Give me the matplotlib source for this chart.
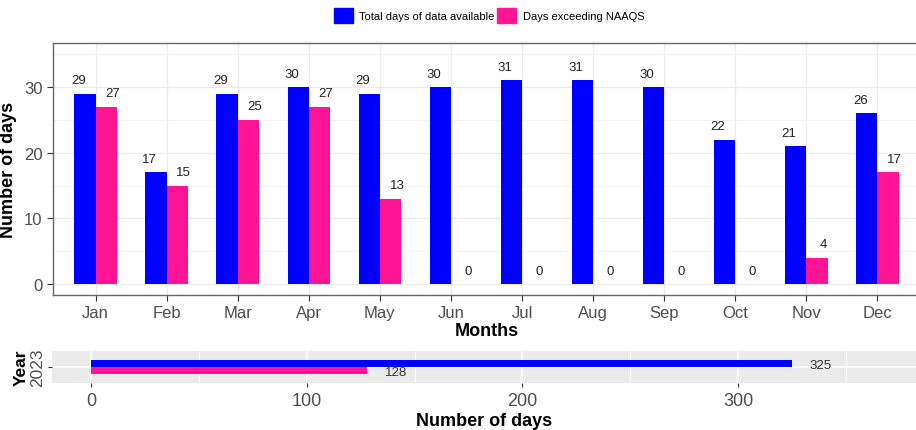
import numpy as np
import matplotlib
matplotlib.use('agg')
import matplotlib.pyplot as plt
from matplotlib.patches import Patch

plt.rcParams['font.family'] = ['Liberation Sans', 'DejaVu Sans']

months = ['Jan', 'Feb', 'Mar', 'Apr', 'May', 'Jun', 'Jul', 'Aug', 'Sep', 'Oct', 'Nov', 'Dec']
total_days = [29, 17, 29, 30, 29, 30, 31, 31, 30, 22, 21, 26]
exceed_days = [27, 15, 25, 27, 13, 0, 0, 0, 0, 0, 4, 17]
year_label = '2023'
year_total = 325
year_exceed = 128

blue = '#0000FF'
pink = '#FF1493'
tick_grey = '#4D4D4D'

fig = plt.figure(figsize=(9.16, 4.31), dpi=100)

# monthly panel
ax = fig.add_axes([53 / 916, 135 / 431, 867 / 916, 252 / 431])
x = np.arange(1, len(months) + 1)
w = 0.3
ax.bar(x - w / 2, total_days, w, color=blue, zorder=3)
ax.bar(x + w / 2, exceed_days, w, color=pink, zorder=3)
for xi, t, e in zip(x, total_days, exceed_days):
    ax.annotate(str(t), (xi - 0.24, t), xytext=(0, 9.7), textcoords='offset points',
                ha='center', va='center', fontsize=9.5, color='#222222')
    ax.annotate(str(e), (xi + 0.24, e), xytext=(0, 9.7), textcoords='offset points',
                ha='center', va='center', fontsize=9.5, color='#222222')
ax.set_xlim(0.4, 12.6)
ax.set_ylim(-1.67, 36.7)
ax.set_xticks(x)
ax.set_xticklabels(months)
ax.set_yticks([0, 10, 20, 30])
ax.set_yticks([5, 15, 25, 35], minor=True)
ax.grid(True, which='major', color='#EBEBEB', lw=0.9, zorder=0)
ax.grid(True, which='minor', axis='y', color='#F3F3F3', lw=0.6, zorder=0)
ax.tick_params(axis='both', which='major', labelsize=12, labelcolor=tick_grey,
               color='#333333', length=4, width=0.8)
ax.tick_params(axis='y', which='minor', length=0)
for s in ax.spines.values():
    s.set_color('#666666')
    s.set_linewidth(1.0)
ax.spines['right'].set_visible(False)
ax.set_xlabel('Months', fontsize=13, fontweight='bold', labelpad=1)
ax.set_ylabel('Number of days', fontsize=13, fontweight='bold', labelpad=5)

# yearly panel
ax2 = fig.add_axes([52 / 916, 47 / 431, 864 / 916, 32 / 431])
ax2.set_facecolor('#EBEBEB')
bh = 0.27
ax2.barh([bh / 2], [year_total], bh, color=blue, zorder=3)
ax2.barh([-bh / 2], [year_exceed], bh, color=pink, zorder=3)
ax2.text(year_total + 13, 0.07, str(year_total), ha='center', va='center', fontsize=9.5, color='#333333')
ax2.text(year_exceed + 13.6, -0.19, str(year_exceed), ha='center', va='center', fontsize=9.5, color='#333333')
ax2.set_xlim(-18.1, 382.5)
ax2.set_ylim(-0.6, 0.6)
ax2.set_xticks([0, 100, 200, 300])
ax2.set_xticks([50, 150, 250, 350], minor=True)
ax2.set_yticks([0])
ax2.set_yticklabels([year_label], rotation=90, va='center')
ax2.grid(True, which='major', color='white', lw=1.1, zorder=0)
ax2.grid(True, which='minor', axis='x', color='white', lw=0.6, zorder=0)
ax2.tick_params(axis='x', which='major', labelsize=13, labelcolor=tick_grey, color='#333333', length=3)
ax2.tick_params(axis='y', which='major', labelsize=12.5, labelcolor=tick_grey, color='#333333', length=3, pad=2)
ax2.tick_params(which='minor', length=0)
for s in ax2.spines.values():
    s.set_visible(False)
ax2.set_xlabel('Number of days', fontsize=13, fontweight='bold', labelpad=2)
ax2.set_ylabel('Year', fontsize=12.5, fontweight='bold', labelpad=1)

handles = [Patch(color=blue), Patch(color=pink)]
fig.legend(handles, ['Total days of data available', 'Days exceeding NAAQS'],
           loc='center', bbox_to_anchor=(489 / 916, 1 - 16 / 431), ncol=2, frameon=False,
           fontsize=8, handlelength=1.7, handleheight=1.7, handletextpad=0.6, columnspacing=0.2)

fig.savefig('out.png', dpi=100)
